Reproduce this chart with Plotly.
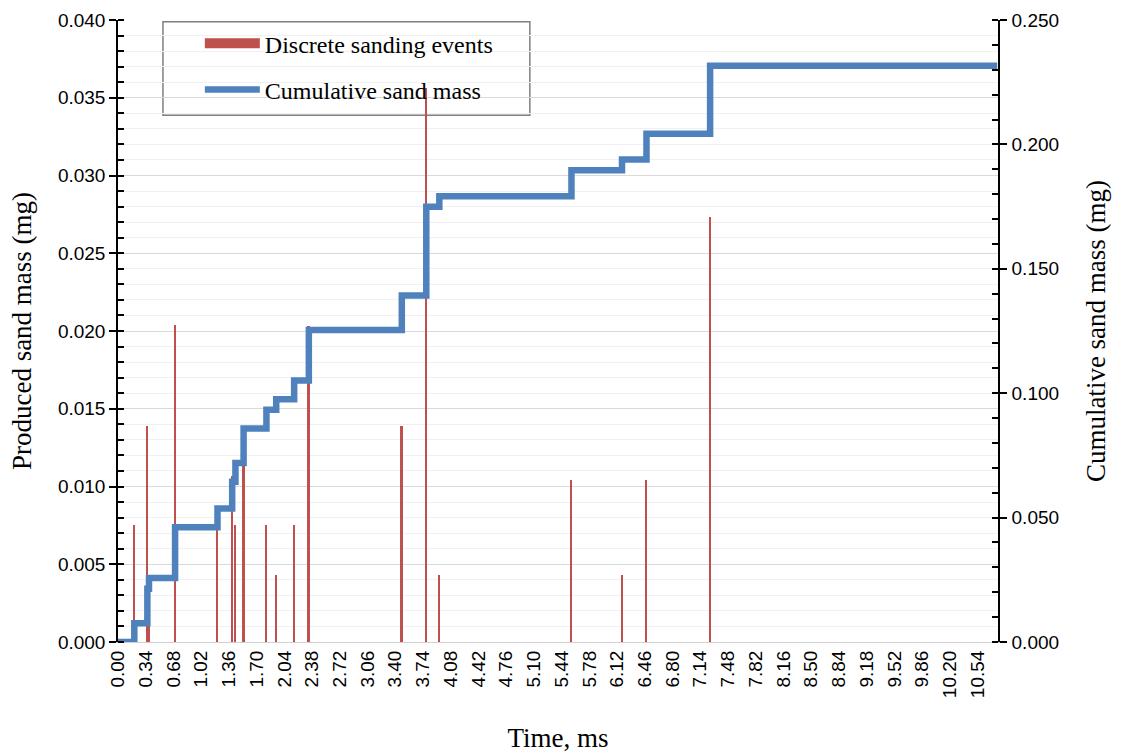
import numpy as np
import plotly.graph_objects as go

# Sanding events: time (ms) and produced sand mass per event (mg)
event_time_ms = [0.20, 0.36, 0.38, 0.70, 1.22, 1.40, 1.44, 1.54, 1.82, 1.94,
                 2.16, 2.34, 3.48, 3.78, 3.94, 5.56, 6.18, 6.48, 7.26]
event_mass_mg = [0.0075, 0.0139, 0.0043, 0.0204, 0.0076, 0.0107, 0.0075, 0.0139,
                 0.0075, 0.0043, 0.0075, 0.0203, 0.0139, 0.0356, 0.0043, 0.0104,
                 0.0043, 0.0104, 0.0273]
t_start_ms = 0.00
t_end_ms = 10.78

# Category-style time labels along the x axis
time_tick_labels = ["0.00", "0.34", "0.68", "1.02", "1.36", "1.70", "2.04", "2.38",
                    "2.72", "3.06", "3.40", "3.74", "4.08", "4.42", "4.76", "5.10",
                    "5.44", "5.78", "6.12", "6.46", "6.80", "7.14", "7.48", "7.82",
                    "8.16", "8.50", "8.84", "9.18", "9.52", "9.86", "10.20", "10.54"]

RED = "#C0504D"
BLUE = "#4F81BD"
SERIF = "Liberation Serif"
SANS = "Liberation Sans"
TITLE_FONT = dict(family=SERIF, size=27, color="#000")
TICK_FONT = dict(family=SANS, size=19, color="#000")

# Running total of produced sand
cum_mass = np.cumsum(event_mass_mg)
line_x = [t_start_ms] + event_time_ms + [t_end_ms]
line_y = [0.0] + list(cum_mass) + [cum_mass[-1]]

fig = go.Figure()

fig.add_trace(go.Bar(
    x=event_time_ms, y=event_mass_mg, width=0.024,
    marker=dict(color=RED, line=dict(width=0)),
    name="Discrete sanding events", showlegend=False,
))
# legend key for the event bars (wide red block)
fig.add_trace(go.Scatter(
    x=[None], y=[None], mode="lines",
    line=dict(color=RED, width=12),
    name="Discrete sanding events", legendgroup="a",
))
fig.add_trace(go.Scatter(
    x=line_x, y=line_y, mode="lines", yaxis="y2",
    line=dict(color=BLUE, width=6.5, shape="hv"),
    name="Cumulative sand mass", legendgroup="b",
))

fig.update_layout(
    width=1121, height=755,
    margin=dict(l=118, r=123, t=20, b=113),
    paper_bgcolor="white", plot_bgcolor="white",
    bargap=0,
    showlegend=True,
    legend=dict(
        x=0.093, y=0.998, xanchor="left", yanchor="top",
        bgcolor="rgba(0,0,0,0)", borderwidth=0,
        font=dict(family=SERIF, size=24, color="#000"),
        itemwidth=55, tracegroupgap=12,
    ),
    xaxis=dict(
        range=[0, 10.79],
        tickmode="array",
        tickvals=[float(s) for s in time_tick_labels],
        ticktext=time_tick_labels,
        tickangle=-90,
        tickfont=TICK_FONT,
        showgrid=False, zeroline=False,
        showline=True, linecolor="#d0d0d0", linewidth=1,
        ticks="",
        automargin=False,
        title=dict(text="Time, ms", font=TITLE_FONT, standoff=30),
    ),
    yaxis=dict(
        range=[0, 0.040], dtick=0.005, tickformat=".3f",
        tickfont=TICK_FONT,
        showgrid=True, gridcolor="#d9d9d9", gridwidth=1,
        zeroline=False,
        showline=True, linecolor="#000", linewidth=1.5,
        ticks="outside", ticklen=7, tickcolor="#000", tickwidth=1.5,
        minor=dict(dtick=0.001, showgrid=True, gridcolor="#f0f0f0", gridwidth=1,
                   ticks="inside", ticklen=6, tickcolor="#000", tickwidth=1.5),
        automargin=False,
        title=dict(text="Produced sand mass (mg)", font=TITLE_FONT, standoff=18),
    ),
    yaxis2=dict(
        range=[0, 0.250], dtick=0.05, tickformat=".3f",
        overlaying="y", side="right",
        tickfont=TICK_FONT,
        showgrid=False, zeroline=False,
        showline=True, linecolor="#000", linewidth=1.5,
        ticks="outside", ticklen=7, tickcolor="#000", tickwidth=1.5,
        ticklabelstandoff=1,
        minor=dict(dtick=0.01, ticks="inside", ticklen=6, tickcolor="#000", tickwidth=1.5),
        automargin=False,
        title=dict(text="Cumulative sand mass (mg)", font=TITLE_FONT, standoff=28),
    ),
    shapes=[dict(
        type="rect", xref="paper", yref="paper", layer="between",
        x0=0.0511, x1=0.468, y0=0.847, y1=0.997,
        fillcolor="white", line=dict(color="#7f7f7f", width=1.5),
    )],
)

fig.write_html("out.html")
